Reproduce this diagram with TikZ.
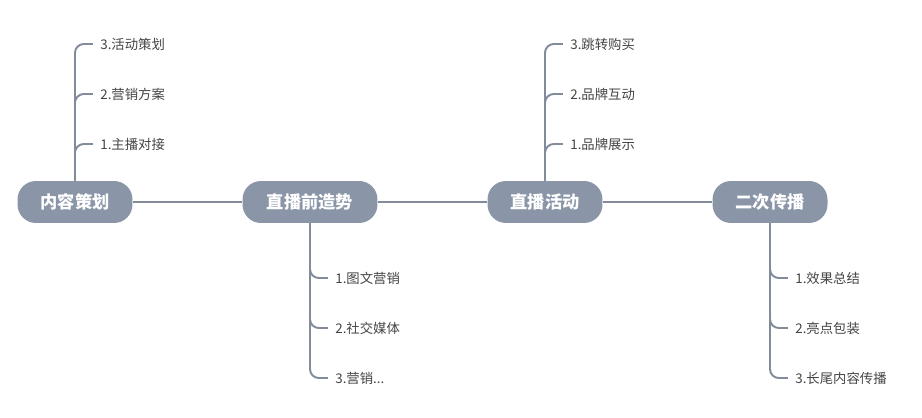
\documentclass[tikz,border=0pt]{standalone}
\usepackage{fontspec}
\setmainfont{Noto Sans CJK SC}
\usetikzlibrary{positioning}
\definecolor{pillgray}{HTML}{8A96A8}
\definecolor{linegray}{HTML}{828B9A}
\definecolor{textgray}{HTML}{444444}
\begin{document}
\begin{tikzpicture}[x=0.02cm, y=-0.02cm,
                    every node/.style={inner sep=0pt},
                    topic/.style={fill=pillgray, rounded corners=10.5pt, minimum width=2.3cm, minimum height=0.84cm,
                                  text=white, font=\fontsize{9.8}{10}\selectfont\bfseries},
                    leaf/.style={anchor=west, text=textgray, font=\fontsize{7.6}{8}\selectfont},
                    link/.style={draw=linegray, line width=1.1pt},
                    branch/.style={link, rounded corners=5pt}]
  \useasboundingbox (0,0) rectangle (922,418);
  % main topics
  \node[topic] (neirong) at (75,202) {内容策划};
  \node[topic, minimum width=2.7cm] (zaoshi) at (310,202) {直播前造势};
  \node[topic] (huodong) at (545,202) {直播活动};
  \node[topic] (chuanbo) at (770,202) {二次传播};
  \draw[link] (neirong) -- (zaoshi);
  \draw[link] (zaoshi) -- (huodong);
  \draw[link] (huodong) -- (chuanbo);
  % leaves above
  \node[leaf] (n3) at (100,44) {3.活动策划};
  \node[leaf] (n2) at (100,94) {2.营销方案};
  \node[leaf] (n1) at (100,144) {1.主播对接};
  \node[leaf] (h3) at (570,44) {3.跳转购买};
  \node[leaf] (h2) at (570,94) {2.品牌互动};
  \node[leaf] (h1) at (570,144) {1.品牌展示};
  % leaves below
  \node[leaf] (z1) at (335,278) {1.图文营销};
  \node[leaf] (z2) at (335,328) {2.社交媒体};
  \node[leaf] (z3) at (335,378) {3.营销...};
  \node[leaf] (c1) at (795,278) {1.效果总结};
  \node[leaf] (c2) at (795,328) {2.亮点包装};
  \node[leaf] (c3) at (795,378) {3.长尾内容传播};
  \foreach \leafname in {n3,n2,n1}
    \draw[branch] (neirong.north) |- ([xshift=-4pt]\leafname.west);
  \foreach \leafname in {h3,h2,h1}
    \draw[branch] (huodong.north) |- ([xshift=-4pt]\leafname.west);
  \foreach \leafname in {z1,z2,z3}
    \draw[branch] (zaoshi.south) |- ([xshift=-4pt]\leafname.west);
  \foreach \leafname in {c1,c2,c3}
    \draw[branch] (chuanbo.south) |- ([xshift=-4pt]\leafname.west);
\end{tikzpicture}
\end{document}
